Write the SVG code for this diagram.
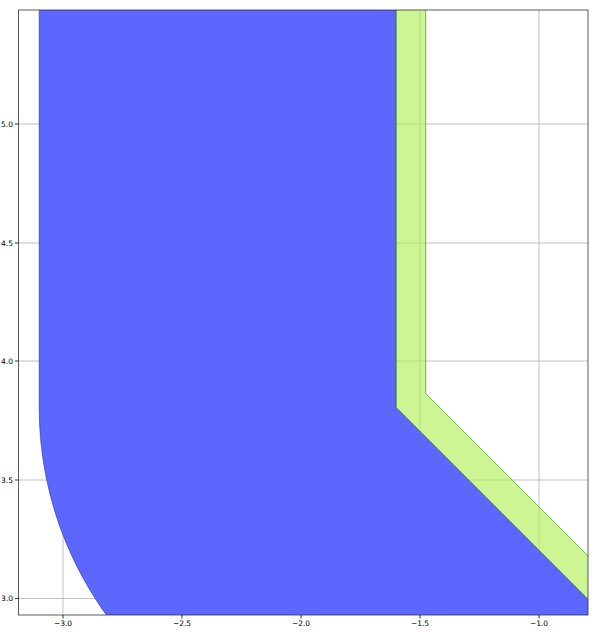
<svg xmlns="http://www.w3.org/2000/svg" width="593" height="632" viewBox="0 0 593 632">
<style>
.grid{stroke:#b0b0b0;stroke-width:0.8;fill:none}
.tick{stroke:#000;stroke-width:0.8}
.lbl{font-family:"DejaVu Sans",sans-serif;font-size:7.5px;fill:#000}
</style>
<defs>
<clipPath id="ax"><rect x="18.5" y="10" width="569.5" height="605"/></clipPath>
</defs>
<rect width="593" height="632" fill="#fff"/>
<g id="grid">
<path class="grid" d="M63,10V615M182,10V615M301,10V615M420,10V615M539,10V615M18.5,124H588M18.5,243H588M18.5,361H588M18.5,480H588M18.5,598.5H588"/>
</g>
<g id="shapes" clip-path="url(#ax)">
<path id="blue" d="M39.2,0H396.2V407.5L620,631.3L396.2,763A357,355.5 0 0 1 39.2,407.5Z" fill="#5c67ff" stroke="#2a2f80" stroke-width="0.6"/>
<path id="green" d="M396.2,0H425.7V393.5L640,607.8L640,651.3L396.2,407.5Z" fill="#b4ef5a" fill-opacity="0.65" stroke="#3a9a1a" stroke-width="0.7"/>
</g>
<g id="axes">
<rect x="18.5" y="10" width="569.5" height="605" fill="none" stroke="#333" stroke-width="0.8"/>
<path class="tick" d="M63,615v3.5M182,615v3.5M301,615v3.5M420,615v3.5M539,615v3.5M18.5,124h-3.5M18.5,243h-3.5M18.5,361h-3.5M18.5,480h-3.5M18.5,598.5h-3.5"/>
<g class="lbl" text-anchor="middle">
<text x="63" y="626">−3.0</text>
<text x="182" y="626">−2.5</text>
<text x="301" y="626">−2.0</text>
<text x="420" y="626">−1.5</text>
<text x="539" y="626">−1.0</text>
</g>
<g class="lbl" text-anchor="end">
<text x="13" y="126.7">5.0</text>
<text x="13" y="245.7">4.5</text>
<text x="13" y="363.7">4.0</text>
<text x="13" y="482.7">3.5</text>
<text x="13" y="601.2">3.0</text>
</g>
</g>
</svg>
